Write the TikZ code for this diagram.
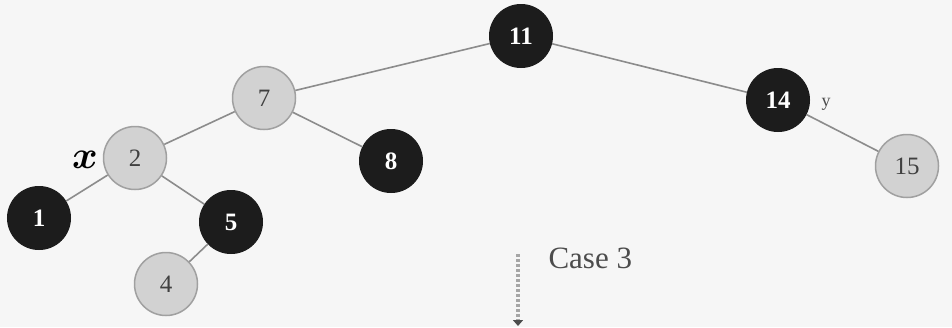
\documentclass[tikz,border=0pt]{standalone}
\usepackage{fontspec}
\setmainfont{Liberation Serif}
\usetikzlibrary{arrows.meta}
\definecolor{bg}{HTML}{F6F6F6}
\definecolor{blk}{HTML}{1C1C1C}
\definecolor{redfill}{HTML}{D2D2D2}
\definecolor{redrim}{HTML}{A0A0A0}
\definecolor{edgecol}{HTML}{8C8C8C}
\begin{document}
\begin{tikzpicture}[x=1pt,y=-1pt,
  blacknode/.style={circle,fill=blk,draw=blk,line width=1pt,minimum size=63pt,inner sep=0pt,
    text=white,font=\fontsize{25}{25}\selectfont\bfseries},
  rednode/.style={circle,fill=redfill,draw=redrim,line width=1.5pt,minimum size=63pt,inner sep=0pt,
    text=black!75,font=\fontsize{25}{25}\selectfont},
  edge/.style={draw=edgecol,line width=1.6pt}]
  \fill[bg] (0,0) rectangle (952,327);
  \useasboundingbox (0,0) rectangle (952,327);

  % tree nodes
  \node[blacknode] (n11) at (521,36) {11};
  \node[rednode]   (n7)  at (264,98) {7};
  \node[blacknode] (n14) at (778,100) {14};
  \node[rednode]   (n2)  at (135,158) {2};
  \node[blacknode] (n8)  at (391,161) {8};
  \node[rednode]   (n15) at (907,166) {15};
  \node[blacknode] (n1)  at (39,218) {1};
  \node[blacknode] (n5)  at (231,222) {5};
  \node[rednode]   (n4)  at (166,284) {4};

  % tree edges
  \draw[edge] (n11) -- (n7);
  \draw[edge] (n11) -- (n14);
  \draw[edge] (n7) -- (n2);
  \draw[edge] (n7) -- (n8);
  \draw[edge] (n2) -- (n1);
  \draw[edge] (n2) -- (n5);
  \draw[edge] (n5) -- (n4);
  \draw[edge] (n14) -- (n15);

  % labels
  \node[scale=3.9,font=\boldmath] (lx) at (85,160) {$x$};
  \node[text=black!70] (ly) at (826,104) {\fontsize{18}{18}\selectfont y};
  \node[text=black!70,anchor=west] (case) at (545,258) {\fontsize{31}{31}\selectfont Case 3};

  % transition arrow
  \coordinate (atop) at (518,254);
  \coordinate (abot) at (518,326);
  \draw[draw=black!35,line width=4pt,dash pattern=on 3pt off 2pt,
        -{Triangle[length=6pt,width=10pt,color=black!70]}] (atop) -- (abot);
\end{tikzpicture}
\end{document}
